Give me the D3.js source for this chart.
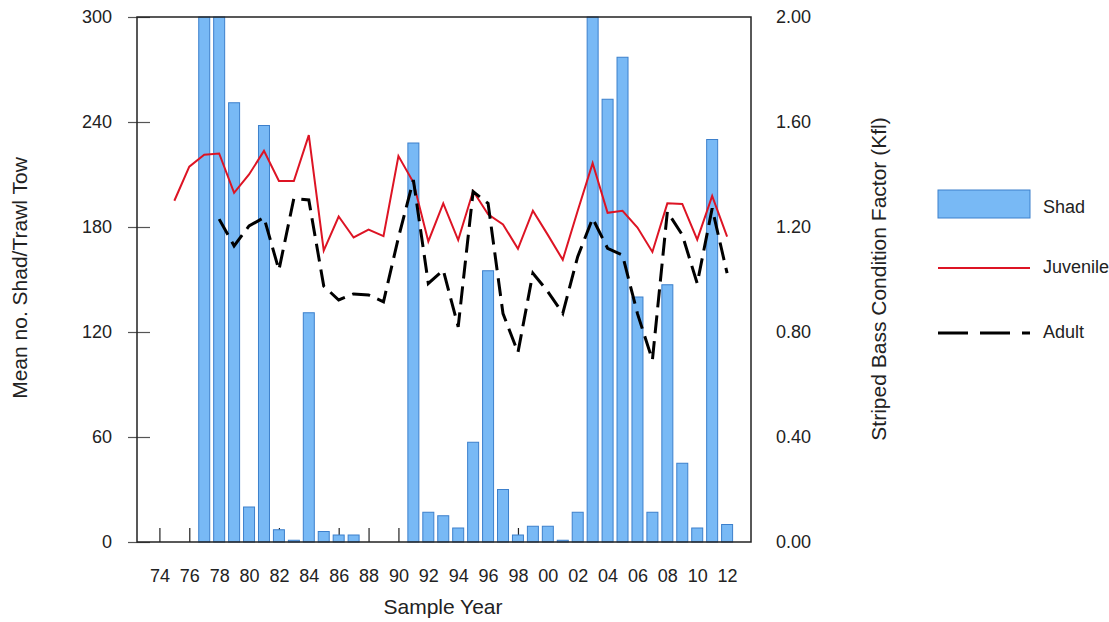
<!DOCTYPE html>
<html>
<head>
<meta charset="utf-8">
<script src="https://cdn.jsdelivr.net/npm/d3@7"></script>
<style>
  body { margin: 0; background: #fff; }
  svg text { font-family: "Liberation Sans", Arial, sans-serif; fill: #222; }
</style>
</head>
<body>
<svg id="chart" width="1109" height="622"></svg>
<script>
const years = [1974, 1975, 1976, 1977, 1978, 1979, 1980, 1981, 1982, 1983,
  1984, 1985, 1986, 1987, 1988, 1989, 1990, 1991, 1992, 1993,
  1994, 1995, 1996, 1997, 1998, 1999, 2000, 2001, 2002, 2003,
  2004, 2005, 2006, 2007, 2008, 2009, 2010, 2011, 2012];

// mean no. shad per trawl tow (left axis), bars above 300 run off the top
const shad = [null, null, null, 340, 360, 251, 20, 238, 7, 1,
  131, 6, 4, 4, null, null, null, 228, 17, 15,
  8, 57, 155, 30, 4, 9, 9, 1, 17, 330,
  253, 277, 140, 17, 147, 45, 8, 230, 10];

// striped bass condition factor (right axis)
const juvenile = [null, 1.30, 1.43, 1.475, 1.48, 1.33, 1.40, 1.49, 1.375, 1.375,
  1.55, 1.11, 1.24, 1.16, 1.19, 1.165, 1.47, 1.37, 1.145, 1.29,
  1.15, 1.337, 1.248, 1.21, 1.117, 1.262, 1.17, 1.075, 1.262, 1.443,
  1.254, 1.262, 1.198, 1.105, 1.29, 1.288, 1.152, 1.318, 1.163];

const adult = [null, null, null, null, 1.23, 1.128, 1.204, 1.236, 1.036, 1.309,
  1.303, 0.975, 0.922, 0.945, 0.941, 0.915, 1.16, 1.379, 0.985, 1.036,
  0.82, 1.335, 1.29, 0.87, 0.722, 1.024, 0.954, 0.871, 1.087, 1.233,
  1.119, 1.093, 0.87, 0.693, 1.258, 1.17, 0.985, 1.271, 1.024];

const yearTicks = [1974, 1976, 1978, 1980, 1982, 1984, 1986, 1988, 1990, 1992,
  1994, 1996, 1998, 2000, 2002, 2004, 2006, 2008, 2010, 2012];
const leftTicks = [0, 60, 120, 180, 240, 300];
const rightTicks = [0, 0.4, 0.8, 1.2, 1.6, 2.0];

const plot = { left: 137, right: 751, top: 17, bottom: 542 };
const svg = d3.select('#chart');

const x = d3.scaleLinear().domain([1972.5, 2013.6]).range([plot.left, plot.right]);
const yL = d3.scaleLinear().domain([0, 300]).range([plot.bottom, plot.top]).clamp(true);
const yR = d3.scaleLinear().domain([0, 2]).range([plot.bottom, plot.top]);

// x axis (ticks point up, sit behind the bars)
const xAxis = svg.append('g')
  .attr('transform', `translate(0,${plot.bottom})`)
  .call(d3.axisBottom(x).tickValues(yearTicks).tickSize(-14).tickPadding(27)
    .tickFormat(d => String(d).slice(2)));
xAxis.select('.domain').remove();
xAxis.selectAll('.tick line').attr('stroke', '#222').attr('stroke-width', 1.2);
xAxis.selectAll('text').attr('font-size', 18);

// left axis
const lAxis = svg.append('g')
  .attr('transform', `translate(${plot.left},0)`)
  .call(d3.axisLeft(yL).tickValues(leftTicks).tickSize(9).tickPadding(16));
lAxis.select('.domain').remove();
lAxis.selectAll('.tick line').attr('x2', 13).attr('x1', -9).attr('stroke', '#555').attr('stroke-width', 1.2);
lAxis.selectAll('text').attr('font-size', 18);

// right axis
const rAxis = svg.append('g')
  .attr('transform', `translate(${plot.right},0)`)
  .call(d3.axisRight(yR).tickValues(rightTicks).tickSize(0).tickPadding(25)
    .tickFormat(d3.format('.2f')));
rAxis.select('.domain').remove();
rAxis.selectAll('text').attr('font-size', 18);

// bars
const barData = years.map((yr, i) => ({ year: yr, value: shad[i] })).filter(d => d.value != null);
const barW = 11;
svg.append('g').selectAll('rect')
  .data(barData)
  .join('rect')
  .attr('x', d => x(d.year) - barW / 2)
  .attr('y', d => yL(d.value))
  .attr('width', barW)
  .attr('height', d => plot.bottom - yL(d.value))
  .attr('fill', '#78b9f5')
  .attr('stroke', '#3d80cc')
  .attr('stroke-width', 1);

// lines
const line = d3.line()
  .defined(d => d.value != null)
  .x(d => x(d.year))
  .y(d => yR(d.value));

svg.append('path')
  .datum(years.map((yr, i) => ({ year: yr, value: juvenile[i] })))
  .attr('d', line)
  .attr('fill', 'none')
  .attr('stroke', '#dd1424')
  .attr('stroke-width', 2);

svg.append('path')
  .datum(years.map((yr, i) => ({ year: yr, value: adult[i] })))
  .attr('d', line)
  .attr('fill', 'none')
  .attr('stroke', '#000')
  .attr('stroke-width', 3)
  .attr('stroke-dasharray', '18,8');

// frame
svg.append('rect')
  .attr('x', plot.left).attr('y', plot.top)
  .attr('width', plot.right - plot.left).attr('height', plot.bottom - plot.top)
  .attr('fill', 'none').attr('stroke', '#222').attr('stroke-width', 1.5);

// axis titles
svg.append('text')
  .attr('x', 443).attr('y', 608)
  .attr('text-anchor', 'middle').attr('dominant-baseline', 'middle')
  .attr('font-size', 21)
  .text('Sample Year');

svg.append('text')
  .attr('transform', 'translate(21,278) rotate(-90)')
  .attr('text-anchor', 'middle').attr('dominant-baseline', 'middle')
  .attr('font-size', 21)
  .text('Mean no. Shad/Trawl Tow');

svg.append('text')
  .attr('transform', 'translate(880,279) rotate(-90)')
  .attr('text-anchor', 'middle').attr('dominant-baseline', 'middle')
  .attr('font-size', 21)
  .text('Striped Bass Condition Factor (Kfl)');

// legend
const lg = svg.append('g');
lg.append('rect')
  .attr('x', 938).attr('y', 190).attr('width', 92).attr('height', 28)
  .attr('fill', '#78b9f5').attr('stroke', '#3d80cc');
lg.append('line')
  .attr('x1', 938).attr('x2', 1030).attr('y1', 268).attr('y2', 268)
  .attr('stroke', '#dd1424').attr('stroke-width', 2);
lg.append('line')
  .attr('x1', 938).attr('x2', 1030).attr('y1', 333).attr('y2', 333)
  .attr('stroke', '#000').attr('stroke-width', 3).attr('stroke-dasharray', '30,12');
[['Shad', 208], ['Juvenile', 268], ['Adult', 333]].forEach(([t, ty]) => {
  lg.append('text')
    .attr('x', 1043).attr('y', ty)
    .attr('dominant-baseline', 'middle')
    .attr('font-size', 18)
    .text(t);
});
</script>
</body>
</html>
